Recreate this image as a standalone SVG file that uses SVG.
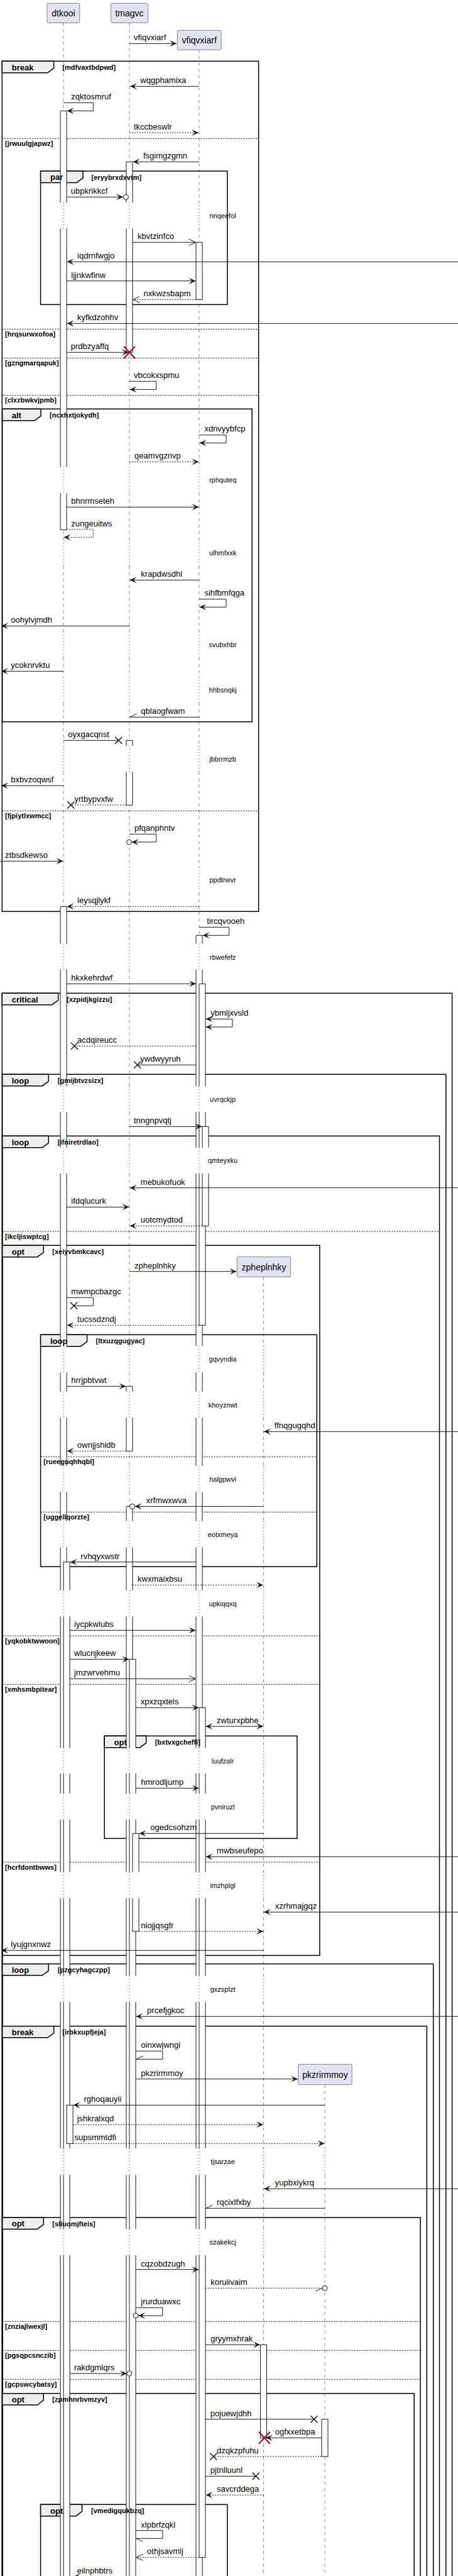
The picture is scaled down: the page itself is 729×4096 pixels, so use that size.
<svg xmlns="http://www.w3.org/2000/svg" width="729" height="4096" viewBox="0 0 729 4096">
<defs>
<style>
text{font-family:"Liberation Sans",Arial,Helvetica,sans-serif;fill:#000}
.pbox{fill:#E2E2F0;stroke:#181818;stroke-width:0.5}
.pt{font-size:14px;text-anchor:middle}
.ll{stroke:#181818;stroke-width:0.5;stroke-dasharray:5,5;fill:none}
.dl{stroke:#A80036;stroke-width:1;stroke-dasharray:1,4;fill:none}
.af{fill:#fff;stroke:none}
.as{fill:none;stroke:#181818;stroke-width:1}
.ab{fill:#fff;stroke:#181818;stroke-width:1}
.m{stroke:#181818;stroke-width:1;fill:none}
.md{stroke:#181818;stroke-width:1;fill:none;stroke-dasharray:2,2}
.t{font-size:13px}
.dt{font-size:11px;text-anchor:middle}
.fr{fill:none;stroke:#000;stroke-width:1.5}
.tab{fill:#EEEEEE;stroke:#000;stroke-width:1.5}
.fk{font-size:13px;font-weight:bold}
.fc{font-size:11px;font-weight:bold}
.sep{stroke:#000;stroke-width:1;stroke-dasharray:2,2;fill:none}
.x{stroke:#181818;stroke-width:1.5;fill:none}
.rx{stroke:#A80036;stroke-width:2;fill:none}
.ci{fill:#fff;stroke:#181818;stroke-width:1}
</style>
<marker id="a" viewBox="-12 -6 13 12" refX="0" refY="0" markerWidth="13" markerHeight="12" markerUnits="userSpaceOnUse" orient="auto-start-reverse"><path d="M0,0 L-11,-5 L-6,0 L-11,5 Z" fill="#181818"/></marker>
<marker id="o" viewBox="-12 -6 13 12" refX="0" refY="0" markerWidth="13" markerHeight="12" markerUnits="userSpaceOnUse" orient="auto"><path d="M-11,-5 L0,0 L-11,5" fill="none" stroke="#181818" stroke-width="1"/></marker>
<marker id="h1" viewBox="-12 -6 13 12" refX="0" refY="0" markerWidth="13" markerHeight="12" markerUnits="userSpaceOnUse" orient="auto"><path d="M-11,5 L0,0" fill="none" stroke="#181818" stroke-width="1"/></marker>
<marker id="h2" viewBox="-12 -6 13 12" refX="0" refY="0" markerWidth="13" markerHeight="12" markerUnits="userSpaceOnUse" orient="auto"><path d="M-11,-5 L0,0" fill="none" stroke="#181818" stroke-width="1"/></marker>
<path id="k0" d="M0 363.3V742.3M0 784V858.6M0 900V1004.3M0 1045.7V1076.3M0 1117.7V1186M0 1227.3V1378.6M0 1420V1500.7M0 1541.7V1727.3M0 1768.3V1824.7M0 1866V2140M0 2182.3V2212.7M0 2254.3V2330.7M0 2372.3V2418.7M0 2460.3V2528.7M0 2570.3V2779.3M0 2820V2851.7M0 2893.3V2976.7M0 3018.3V3141.7M0 3183.3V3416M0 3458.3V3544.3M0 3586V4096"/>
<path id="kB" d="M0 1541.7V1727.3M0 1768.3V1824.7M0 1866V2140M0 2182.3V2212.7M0 2254.3V2330.7M0 2372.3V2418.7M0 2460.3V2528.7M0 2570.3V2779.3M0 2820V2851.7M0 2893.3V2976.7M0 3018.3V3141.7M0 3183.3V3416M0 3458.3V3544.3M0 3586V4096"/>
<path id="kC" d="M0 2460.3V2528.7M0 2570.3V2779.3M0 2820V2851.7M0 2893.3V2976.7M0 3018.3V3141.7M0 3183.3V3416M0 3458.3V3544.3M0 3586V4096"/>
<path id="kD" d="M0 2570.3V2779.3M0 2820V2851.7M0 2893.3V2976.7M0 3018.3V3141.7M0 3183.3V3416M0 3458.3V3544.3M0 3586V4096"/>
<path id="kE" d="M0 2820V2851.7M0 2893.3V2976.7M0 3018.3V3141.7M0 3183.3V3416M0 3458.3V3544.3M0 3586V4096"/>
<path id="q1" d="M0 322V363.3M0 742.3V784M0 858.6V900M0 1004.3V1045.7M0 1076.3V1117.7M0 1186V1227.3M0 1378.6V1420M0 1500.7V1541.7M0 1727.3V1768.3M0 1824.7V1866"/>
<path id="q2" d="M0 2140V2182.3M0 2212.7V2254.3M0 2330.7V2372.3M0 2418.7V2460.3M0 2528.7V2570.3M0 2779.3V2820M0 2851.7V2893.3M0 2976.7V3018.3M0 3141.7V3183.3"/>
<path id="q3" d="M0 3416V3458.3M0 3544.3V3586"/>
</defs>
<rect x="0" y="0" width="729" height="4096" fill="#fff"/>

<g id="frames">
<rect class="fr" x="3.3" y="97.3" width="408.3" height="1352"/>
<polygon class="tab" points="3.3,97.3 85.7,97.3 85.7,108.3 75.7,115.7 3.3,115.7"/>
<path class="sep" d="M3.3 220.3H411.6M3.3 523.3H411.6M3.3 569.3H411.6M3.3 628.7H411.6M3.3 1289.3H411.6"/>
<rect class="fr" x="64.6" y="272" width="297.3" height="212.3"/>
<polygon class="tab" points="64.6,272 132,272 132,283 122,290.4 64.6,290.4"/>
<rect class="fr" x="3.7" y="650.3" width="397.5" height="497.4"/>
<polygon class="tab" points="3.7,650.3 65.1,650.3 65.1,661.3 55.1,668.7 3.7,668.7"/>
<rect class="fr" x="3.3" y="1579.3" width="716.3" height="2530"/>
<polygon class="tab" points="3.3,1579.3 92.7,1579.3 92.7,1590.3 82.7,1597.7 3.3,1597.7"/>
<rect class="fr" x="3.7" y="1708.3" width="706.1" height="2400"/>
<polygon class="tab" points="3.7,1708.3 77.3,1708.3 77.3,1719.3 67.3,1726.7 3.7,1726.7"/>
<rect class="fr" x="3.7" y="1806.3" width="695.8" height="2300"/>
<polygon class="tab" points="3.7,1806.3 77.3,1806.3 77.3,1817.3 67.3,1824.7 3.7,1824.7"/>
<path class="sep" d="M3.7 1958H699.5"/>
<rect class="fr" x="3.7" y="1980.3" width="505.2" height="1129"/>
<polygon class="tab" points="3.7,1980.3 69.3,1980.3 69.3,1991.3 59.3,1998.7 3.7,1998.7"/>
<path class="sep" d="M3.7 2601H508.9M3.7 2678.3H508.9M3.7 2961H508.9"/>
<rect class="fr" x="64.6" y="2122.3" width="439.7" height="368.7"/>
<polygon class="tab" points="64.6,2122.3 138.6,2122.3 138.6,2133.3 128.6,2140.7 64.6,2140.7"/>
<path class="sep" d="M64.6 2316.3H504.3M64.6 2404.3H504.3"/>
<rect class="fr" x="166.2" y="2760.3" width="306.7" height="163"/>
<polygon class="tab" points="166.2,2760.3 232.7,2760.3 232.7,2771.3 222.7,2778.7 166.2,2778.7"/>
<rect class="fr" x="3.7" y="3122.7" width="686" height="990"/>
<polygon class="tab" points="3.7,3122.7 77.3,3122.7 77.3,3133.7 67.3,3141.1 3.7,3141.1"/>
<rect class="fr" x="3.7" y="3221.7" width="675.7" height="890"/>
<polygon class="tab" points="3.7,3221.7 85.7,3221.7 85.7,3232.7 75.7,3240.1 3.7,3240.1"/>
<rect class="fr" x="3.7" y="3526" width="665.4" height="590"/>
<polygon class="tab" points="3.7,3526 69.3,3526 69.3,3537 59.3,3544.4 3.7,3544.4"/>
<path class="sep" d="M3.7 3691.3H669.1M3.7 3737.3H669.1M3.7 3783.3H669.1"/>
<rect class="fr" x="3.7" y="3805.7" width="655.5" height="310"/>
<polygon class="tab" points="3.7,3805.7 69.3,3805.7 69.3,3816.7 59.3,3824.1 3.7,3824.1"/>
<rect class="fr" x="64.6" y="3982.3" width="297.3" height="130"/>
<polygon class="tab" points="64.6,3982.3 130.6,3982.3 130.6,3993.3 120.6,4000.7 64.6,4000.7"/>
</g>

<g id="lifelines">
<g class="ll">
<path d="M101.1 36.3V322M206 36.3V322M317 79.3V322"/>
<use href="#k0" x="101.1"/><use href="#k0" x="206"/><use href="#k0" x="317"/>
<path d="M419.5 2030.3V2140M419.5 2182.3V2212.7M419.5 2254.3V2330.7M419.5 2372.3V2418.7"/>
<use href="#kC" x="419.5"/>
<path d="M517 3314.7V3416M517 3458.3V3544.3M517 3586V4096"/>
</g>
</g>

<g id="activations">
<rect class="af" x="96.1" y="176.3" width="10" height="666"/>
<path class="as" d="M96.1 322V176.3H106.1V322M96.1 363.3V742.3M106.1 363.3V742.3M96.1 784V842.3H106.1V784"/>
<rect class="af" x="96.1" y="1441.3" width="10" height="2665"/>
<path class="as" d="M96.1 1500.7V1441.3H106.1V1500.7"/>
<g class="as"><use href="#kB" x="96.1"/><use href="#kB" x="106.1"/></g>
<rect class="af" x="201" y="257.3" width="10" height="303"/>
<path class="as" d="M201 322V257.3H211V322M201 363.3V560.3H211V363.3"/>
<rect class="af" x="201" y="1177.3" width="10" height="103"/>
<path class="as" d="M201 1186V1177.3H211V1186M201 1227.3V1280.3H211V1227.3"/>
<rect class="af" x="201" y="2204.3" width="10" height="103"/>
<path class="as" d="M201 2212.7V2204.3H211V2212.7M201 2254.3V2307.3H211V2254.3"/>
<rect class="af" x="201" y="2395.3" width="10" height="1710"/>
<path class="as" d="M201 2418.7V2395.3H211V2418.7"/>
<g class="as"><use href="#kC" x="201"/><use href="#kC" x="211"/></g>
<rect class="ab" x="312" y="385.3" width="10" height="91"/>
<rect class="af" x="312" y="1487.3" width="10" height="2620"/>
<path class="as" d="M312 1500.7V1487.3H322V1500.7"/>
<g class="as"><use href="#kB" x="312"/><use href="#kB" x="322"/></g>
<rect class="ab" x="414.5" y="3728.3" width="10" height="148"/>
<rect class="ab" x="512" y="3846.7" width="10" height="59.3"/>
<!-- level 2 -->
<rect class="af" x="101.1" y="2483.7" width="10" height="1620"/>
<path class="as" d="M101.1 2528.7V2483.7H111.1V2528.7"/>
<g class="as"><use href="#kD" x="101.1"/><use href="#kD" x="111.1"/></g>
<rect class="af" x="206" y="2638.3" width="10" height="1470"/>
<path class="as" d="M206 2779.3V2638.3H216V2779.3"/>
<g class="as"><use href="#kE" x="206"/><use href="#kE" x="216"/></g>
<rect class="af" x="317" y="1564.3" width="10" height="543"/>
<path class="as" d="M317 1727.3V1564.3H327V1727.3M317 1768.3V1824.7M327 1768.3V1824.7M317 1866V2107.3H327V1866"/>
<rect class="af" x="317" y="2715.3" width="10" height="1351"/>
<path class="as" d="M317 2779.3V2715.3H327V2779.3M317 2820V2851.7M327 2820V2851.7M317 2893.3V2976.7M327 2893.3V2976.7M317 3018.3V3141.7M327 3018.3V3141.7M317 3183.3V3416M327 3183.3V3416M317 3458.3V3544.3M327 3458.3V3544.3M317 3586V4066.3H327V3586"/>
<!-- level 3 -->
<rect class="ab" x="106.1" y="3347.3" width="10" height="61"/>
<rect class="af" x="211" y="2915.3" width="10" height="155.7"/>
<path class="as" d="M211 2976.7V2915.3H221V2976.7M211 3018.3V3071H221V3018.3"/>
<rect class="af" x="322" y="1791.3" width="10" height="158"/>
<path class="as" d="M322 1824.7V1791.3H332V1824.7M322 1866V1949.3H332V1866"/>
</g>

<g id="delays">
<g class="dl">
<use href="#q1" x="101.1"/><use href="#q1" x="206"/><use href="#q1" x="317"/>
<use href="#q2" x="101.1"/><use href="#q2" x="206"/><use href="#q2" x="317"/><use href="#q2" x="419.5"/>
<use href="#q3" x="101.1"/><use href="#q3" x="206"/><use href="#q3" x="317"/><use href="#q3" x="419.5"/><use href="#q3" x="517"/>
</g>
<text class="dt" x="354.6" y="347">nnqeefol</text>
<text class="dt" x="354.6" y="767">rphquteq</text>
<text class="dt" x="354.6" y="883.3">ulhmfxxk</text>
<text class="dt" x="354.6" y="1029">svubxhbr</text>
<text class="dt" x="354.6" y="1101">hhbsnqkj</text>
<text class="dt" x="354.6" y="1211">jbbrrmzb</text>
<text class="dt" x="354.6" y="1403.3">ppdtrwvr</text>
<text class="dt" x="354.6" y="1526.3">rbwefefz</text>
<text class="dt" x="354.6" y="1751.8">uvrqckjp</text>
<text class="dt" x="354.6" y="1849.4">qmteyxku</text>
<text class="dt" x="354.6" y="2165.2">gqvyndia</text>
<text class="dt" x="354.6" y="2237.5">khoyznwt</text>
<text class="dt" x="354.6" y="2355.5">halgpwvi</text>
<text class="dt" x="354.6" y="2443.5">eotxmeya</text>
<text class="dt" x="354.6" y="2553.5">upkiqqxq</text>
<text class="dt" x="354.6" y="2803.7">luufzalr</text>
<text class="dt" x="354.6" y="2876.5">pvniruzl</text>
<text class="dt" x="354.6" y="3001.5">imzhplgl</text>
<text class="dt" x="354.6" y="3166.5">gxzsplzt</text>
<text class="dt" x="354.6" y="3441.2">tjsarzae</text>
<text class="dt" x="354.6" y="3569.2">szakekcj</text>
</g>

<g id="node-dtkooi"><rect class="pbox" x="74.9" y="5.3" width="52" height="31" rx="2.5"/><text class="pt" x="100.9" y="26.3">dtkooi</text></g>
<g id="node-tmagvc"><rect class="pbox" x="176.5" y="5.3" width="59" height="31" rx="2.5"/><text class="pt" x="206" y="26.3">tmagvc</text></g>
<g id="node-vfiqvxiarf"><rect class="pbox" x="282.3" y="48.3" width="69.8" height="31" rx="2.5"/><text class="pt" x="317.2" y="69.3">vfiqvxiarf</text></g>
<g id="node-zpheplnhky"><rect class="pbox" x="377.4" y="1998.3" width="85.2" height="32" rx="2.5"/><text class="pt" x="420" y="2019.8">zpheplnhky</text></g>
<g id="node-pkzrirmmoy"><rect class="pbox" x="474.8" y="3282.3" width="85.4" height="32.4" rx="2.5"/><text class="pt" x="517.5" y="3304">pkzrirmmoy</text></g>

<g id="connectors">
<line class="m" x1="206" y1="69.3" x2="281" y2="69.3" marker-end="url(#a)"/>
<line class="m" x1="317" y1="137.3" x2="207" y2="137.3" marker-end="url(#a)"/>
<polyline class="m" points="101.1,163.3 148.4,163.3 148.4,176.3 106.6,176.3" marker-end="url(#a)"/>
<line class="md" x1="206" y1="211" x2="316" y2="211" marker-end="url(#a)"/>
<line class="m" x1="317" y1="257.3" x2="211.5" y2="257.3" marker-end="url(#a)"/>
<line class="m" x1="106.1" y1="313.3" x2="196" y2="313.3" marker-end="url(#a)"/>
<circle class="ci" cx="200.5" cy="313.3" r="4"/>
<line class="m" x1="211" y1="385.3" x2="311.5" y2="385.3" marker-end="url(#o)"/>
<line class="m" x1="729" y1="416.3" x2="106.6" y2="416.3" marker-end="url(#a)"/>
<line class="m" x1="106.1" y1="446.7" x2="311.5" y2="446.7" marker-end="url(#a)"/>
<line class="md" x1="312" y1="476.3" x2="211.5" y2="476.3" marker-end="url(#o)"/>
<line class="m" x1="729" y1="514.3" x2="106.6" y2="514.3" marker-end="url(#a)"/>
<line class="m" x1="106.1" y1="560.3" x2="205" y2="560.3" marker-end="url(#a)"/>
<path class="rx" d="M197 550.8L215 569.8M215 550.8L197 569.8"/>
<polyline class="m" points="206,606.3 248.6,606.3 248.6,619.3 206.5,619.3" marker-end="url(#a)"/>
<polyline class="m" points="317,691.7 360,691.7 360,704.3 317.5,704.3" marker-end="url(#a)"/>
<line class="md" x1="206" y1="734.3" x2="316.5" y2="734.3" marker-end="url(#a)"/>
<line class="m" x1="106.1" y1="806.3" x2="316.5" y2="806.3" marker-end="url(#a)"/>
<polyline class="md" points="106.1,841.7 148.4,841.7 148.4,854.3 101.6,854.3" marker-end="url(#a)"/>
<line class="m" x1="317" y1="922.3" x2="206.5" y2="922.3" marker-end="url(#a)"/>
<polyline class="m" points="317,952.7 360,952.7 360,965.3 317.5,965.3" marker-end="url(#a)"/>
<line class="m" x1="206" y1="995.3" x2="2" y2="995.3" marker-end="url(#a)"/>
<line class="m" x1="101.1" y1="1067.3" x2="2" y2="1067.3" marker-end="url(#a)"/>
<line class="m" x1="317" y1="1140.3" x2="206.5" y2="1140.3" marker-end="url(#h1)"/>
<line class="m" x1="101.1" y1="1177.3" x2="188.7" y2="1177.3"/>
<path class="x" d="M183.2 1171.8L194.2 1182.8M194.2 1171.8L183.2 1182.8"/>
<line class="m" x1="101.1" y1="1249.3" x2="2" y2="1249.3" marker-end="url(#a)"/>
<line class="md" x1="201" y1="1280" x2="112.8" y2="1280"/>
<path class="x" d="M107.3 1274.5L118.3 1285.5M118.3 1274.5L107.3 1285.5"/>
<polyline class="m" points="206,1326.3 248.6,1326.3 248.6,1339 209.5,1339" marker-end="url(#a)"/>
<circle class="ci" cx="205.5" cy="1339" r="4"/>
<line class="m" x1="0" y1="1369.3" x2="100.6" y2="1369.3" marker-end="url(#a)"/>
<line class="md" x1="317" y1="1441.3" x2="106.6" y2="1441.3" marker-end="url(#a)"/>
<polyline class="m" points="317,1474.3 364.7,1474.3 364.7,1487.3 322.5,1487.3" marker-end="url(#a)"/>
<line class="m" x1="106.1" y1="1564.3" x2="312" y2="1564.3" marker-end="url(#a)"/>
<polyline class="m" points="327.5,1620.3 369.9,1620.3 369.9,1633 327.5,1633" marker-start="url(#a)" marker-end="url(#a)"/>
<line class="md" x1="312" y1="1663.3" x2="118.5" y2="1663.3"/>
<path class="x" d="M113 1657.8L124 1668.8M124 1657.8L113 1668.8"/>
<line class="m" x1="312" y1="1693.3" x2="218.7" y2="1693.3"/>
<path class="x" d="M213.2 1687.8L224.2 1698.8M224.2 1687.8L213.2 1698.8"/>
<line class="m" x1="206" y1="1791.3" x2="321.5" y2="1791.3" marker-end="url(#a)"/>
<line class="m" x1="729" y1="1888.7" x2="206.5" y2="1888.7" marker-end="url(#a)"/>
<line class="m" x1="106.1" y1="1919.3" x2="205.5" y2="1919.3" marker-end="url(#a)"/>
<line class="md" x1="322" y1="1949.3" x2="206.5" y2="1949.3" marker-end="url(#a)"/>
<line class="m" x1="206" y1="2021.7" x2="376.4" y2="2021.7" marker-end="url(#a)"/>
<polyline class="m" points="106.1,2063.3 148.4,2063.3 148.4,2076.3 117.5,2076.3"/>
<path class="x" d="M112 2070.8L123 2081.8M123 2070.8L112 2081.8"/>
<line class="md" x1="317" y1="2107.3" x2="106.6" y2="2107.3" marker-end="url(#a)"/>
<line class="m" x1="106.1" y1="2204.3" x2="200.5" y2="2204.3" marker-end="url(#a)"/>
<line class="m" x1="729" y1="2276.3" x2="420" y2="2276.3" marker-end="url(#a)"/>
<line class="md" x1="201" y1="2307.3" x2="106.6" y2="2307.3" marker-end="url(#a)"/>
<line class="m" x1="419.5" y1="2395.3" x2="214.5" y2="2395.3" marker-end="url(#a)"/>
<circle class="ci" cx="210.5" cy="2395.3" r="4"/>
<line class="m" x1="312" y1="2483.7" x2="111.6" y2="2483.7" marker-end="url(#a)"/>
<line class="md" x1="211" y1="2520.3" x2="419" y2="2520.3" marker-end="url(#a)"/>
<line class="m" x1="111.1" y1="2592.3" x2="311.5" y2="2592.3" marker-end="url(#a)"/>
<line class="m" x1="111.1" y1="2638.3" x2="205.5" y2="2638.3" marker-end="url(#a)"/>
<line class="m" x1="111.1" y1="2669.3" x2="311.5" y2="2669.3" marker-end="url(#o)"/>
<line class="m" x1="216" y1="2715.3" x2="316.5" y2="2715.3" marker-end="url(#a)"/>
<line class="m" x1="327.5" y1="2745" x2="419" y2="2745" marker-start="url(#a)" marker-end="url(#a)"/>
<line class="m" x1="216" y1="2843.3" x2="316.5" y2="2843.3" marker-end="url(#a)"/>
<line class="m" x1="419.5" y1="2915.3" x2="221.5" y2="2915.3" marker-end="url(#a)"/>
<line class="m" x1="729" y1="2952.3" x2="327.5" y2="2952.3" marker-end="url(#a)"/>
<line class="m" x1="729" y1="3040.3" x2="420" y2="3040.3" marker-end="url(#a)"/>
<line class="md" x1="221" y1="3071" x2="419" y2="3071" marker-end="url(#a)"/>
<line class="m" x1="419.5" y1="3101.3" x2="2" y2="3101.3" marker-end="url(#a)"/>
<line class="m" x1="729" y1="3206.3" x2="216.5" y2="3206.3" marker-end="url(#a)"/>
<polyline class="m" points="216,3261.3 258.9,3261.3 258.9,3274.3 216.5,3274.3" marker-end="url(#h1)"/>
<line class="m" x1="216" y1="3305.7" x2="474" y2="3305.7" marker-end="url(#a)"/>
<line class="m" x1="517" y1="3347.3" x2="116.6" y2="3347.3" marker-end="url(#a)"/>
<line class="md" x1="116.1" y1="3378.3" x2="419" y2="3378.3" marker-end="url(#a)"/>
<line class="md" x1="116.1" y1="3408.3" x2="516.5" y2="3408.3" marker-end="url(#a)"/>
<line class="m" x1="729" y1="3480.3" x2="420" y2="3480.3" marker-end="url(#a)"/>
<line class="m" x1="517" y1="3511.3" x2="327.5" y2="3511.3" marker-end="url(#h1)"/>
<line class="m" x1="216" y1="3608.7" x2="316.5" y2="3608.7" marker-end="url(#a)"/>
<line class="md" x1="327" y1="3638.3" x2="513" y2="3638.3" marker-end="url(#h1)"/>
<circle class="ci" cx="517" cy="3638.3" r="4"/>
<polyline class="m" points="216,3669.3 258.9,3669.3 258.9,3682 220,3682" marker-end="url(#a)"/>
<circle class="ci" cx="216" cy="3682" r="4"/>
<line class="m" x1="327" y1="3728.3" x2="414" y2="3728.3" marker-end="url(#a)"/>
<line class="m" x1="111.1" y1="3774" x2="201.8" y2="3774" marker-end="url(#a)"/>
<circle class="ci" cx="205.8" cy="3774" r="4"/>
<line class="m" x1="327" y1="3846.7" x2="500" y2="3846.7"/>
<path class="x" d="M494.5 3841.2L505.5 3852.2M505.5 3841.2L494.5 3852.2"/>
<line class="m" x1="512" y1="3876.3" x2="423" y2="3876.3" marker-end="url(#a)"/>
<path class="rx" d="M411.9 3866.8L429.9 3885.8M429.9 3866.8L411.9 3885.8"/>
<line class="md" x1="512" y1="3906" x2="339.9" y2="3906"/>
<path class="x" d="M334.4 3900.5L345.4 3911.5M345.4 3900.5L334.4 3911.5"/>
<line class="m" x1="327" y1="3937.3" x2="407.3" y2="3937.3"/>
<path class="x" d="M401.8 3931.8L412.8 3942.8M412.8 3931.8L401.8 3942.8"/>
<line class="md" x1="419.5" y1="3967.3" x2="327.5" y2="3967.3" marker-end="url(#a)"/>
<polyline class="m" points="216,4023.7 258.9,4023.7 258.9,4036.3 216.5,4036.3" marker-end="url(#h2)"/>
<line class="md" x1="317" y1="4066.3" x2="216.5" y2="4066.3" marker-end="url(#o)"/>
<line class="m" x1="400" y1="4097" x2="116.6" y2="4097" marker-end="url(#a)"/>
</g>

<g id="message-labels" class="t">
<text class="t" x="213" y="64.3">vfiqvxiarf</text>
<text class="t" x="223.3" y="132.3">wqgphamixa</text>
<text class="t" x="113.3" y="157.8">zqktosmruf</text>
<text class="t" x="213" y="206">tkccbeswlr</text>
<text class="t" x="228" y="252.3">fsgimgzgmn</text>
<text class="t" x="112.8" y="308.3">ubpkrikkcf</text>
<text class="t" x="219.1" y="380.3">kbvtzinfco</text>
<text class="t" x="123.1" y="411.3">iqdrnfwgjo</text>
<text class="t" x="113.3" y="441.7">ljjnkwfinw</text>
<text class="t" x="228.5" y="471.3">nxkwzsbapm</text>
<text class="t" x="123.1" y="509.3">kyfkdzohhv</text>
<text class="t" x="112.8" y="555.3">prdbzyaffq</text>
<text class="t" x="213" y="601">vbcokxspmu</text>
<text class="t" x="325.4" y="686">xdnvyybfcp</text>
<text class="t" x="214" y="729.3">qeamvgznvp</text>
<text class="t" x="113.3" y="801.3">bhnrmseteh</text>
<text class="t" x="113.3" y="836.5">zungeuitws</text>
<text class="t" x="224.3" y="917.3">krapdwsdhl</text>
<text class="t" x="325.4" y="947">sihfbmfqga</text>
<text class="t" x="17.3" y="990.3">oohylvjmdh</text>
<text class="t" x="17.3" y="1062.3">ycoknrvktu</text>
<text class="t" x="224.3" y="1135.3">qblaogfwam</text>
<text class="t" x="108.2" y="1172.3">oyxgacqnst</text>
<text class="t" x="17.3" y="1244.3">bxbvzoqwsf</text>
<text class="t" x="118.5" y="1275">yrtbypvxfw</text>
<text class="t" x="214" y="1321">pfqanphntv</text>
<text class="t" x="8" y="1364.3">ztbsdkewso</text>
<text class="t" x="123.1" y="1436.3">leysqjlykf</text>
<text class="t" x="329.2" y="1468.5">tircqvooeh</text>
<text class="t" x="113.3" y="1559.3">hkxkehrdwf</text>
<text class="t" x="335.2" y="1614.8">ybmljxvsld</text>
<text class="t" x="123.1" y="1658.3">acdqireucc</text>
<text class="t" x="223.3" y="1688.3">ywdwyyruh</text>
<text class="t" x="213" y="1786.3">tnngnpvqtj</text>
<text class="t" x="223.8" y="1883.7">mebukofuok</text>
<text class="t" x="113.3" y="1914.3">ifdqlucurk</text>
<text class="t" x="223.8" y="1944.3">uotcmydtod</text>
<text class="t" x="214" y="2016.7">zpheplnhky</text>
<text class="t" x="113.3" y="2058">mwmpcbazgc</text>
<text class="t" x="123.1" y="2102.3">tucssdzndj</text>
<text class="t" x="113.3" y="2199.3">hrrjpbtvwt</text>
<text class="t" x="436.8" y="2271.3">ffnqgugqhd</text>
<text class="t" x="123.1" y="2302.3">ownjjshidb</text>
<text class="t" x="232.7" y="2390.3">xrfmwxwva</text>
<text class="t" x="128.3" y="2478.7">rvhqyxwstr</text>
<text class="t" x="219.1" y="2515.3">kwxmaixbsu</text>
<text class="t" x="118" y="2587.3">iycpkwlubs</text>
<text class="t" x="118" y="2633.3">wlucnjkeew</text>
<text class="t" x="118" y="2664.3">jmzwrvehmu</text>
<text class="t" x="223.8" y="2710.3">xpxzqxtels</text>
<text class="t" x="345.1" y="2740">zwturxpbhe</text>
<text class="t" x="224.3" y="2838.3">hmrodljump</text>
<text class="t" x="239.3" y="2910.3">ogedcsohzm</text>
<text class="t" x="345.1" y="2947.3">mwbseufepo</text>
<text class="t" x="437.8" y="3035.3">xzrhmajgqz</text>
<text class="t" x="224.3" y="3066">niojjqsgfr</text>
<text class="t" x="17.3" y="3096.3">lyujgnxnwz</text>
<text class="t" x="234.1" y="3201.3">prcefjgkoc</text>
<text class="t" x="224.3" y="3256">oinxwjwngi</text>
<text class="t" x="224.3" y="3300.7">pkzrirmmoy</text>
<text class="t" x="133.4" y="3342.3">rghoqauyii</text>
<text class="t" x="122.7" y="3373.3">jshkralxqd</text>
<text class="t" x="118.5" y="3403.3">supsmmtdfi</text>
<text class="t" x="437.8" y="3475.3">yupbxiykrq</text>
<text class="t" x="345.1" y="3506.3">rqcixlfxby</text>
<text class="t" x="224.3" y="3603.7">cqzobdzugh</text>
<text class="t" x="335.2" y="3633.3">koruiivaim</text>
<text class="t" x="224.3" y="3664">jrurduawxc</text>
<text class="t" x="335.2" y="3723.3">gryymxhrak</text>
<text class="t" x="118" y="3769">rakdgmlqrs</text>
<text class="t" x="334.8" y="3841.7">pojuewjdhh</text>
<text class="t" x="437.8" y="3871.3">ogfxxetbpa</text>
<text class="t" x="345.1" y="3901">dzqkzpfuhu</text>
<text class="t" x="334.8" y="3932.3">pjtnlluunl</text>
<text class="t" x="345.1" y="3962.3">savcrddega</text>
<text class="t" x="224.3" y="4018.5">xlpbrfzqkl</text>
<text class="t" x="234.1" y="4061.3">othjsavmlj</text>
<text class="t" x="122.7" y="4091.7">eilnphbtrs</text>
</g>

<g id="frame-labels">
<text class="fk" x="18.7" y="111.6">break</text><text class="fc" x="99.3" y="111">[mdfvaxtbdpwd]</text>
<text class="fc" x="8" y="231.8">[jrwuulgjapwz]</text>
<text class="fc" x="8" y="534.8">[hrqsurwxofoa]</text>
<text class="fc" x="8" y="580.8">[gzngmarqapuk]</text>
<text class="fc" x="8" y="640.2">[clxzbwkvjpmb]</text>
<text class="fc" x="8" y="1300.8">[fjpiytlxwmcc]</text>
<text class="fk" x="80" y="286.3">par</text><text class="fc" x="145.6" y="285.7">[eryybrxdxvtm]</text>
<text class="fk" x="18.7" y="664.6">alt</text><text class="fc" x="79.1" y="664">[ncxhxtjokydh]</text>
<text class="fk" x="18.7" y="1593.6">critical</text><text class="fc" x="106.3" y="1593">[xzpidjkgizzu]</text>
<text class="fk" x="18.7" y="1722.6">loop</text><text class="fc" x="91.8" y="1722">[gmijbtvzsizx]</text>
<text class="fk" x="18.7" y="1820.6">loop</text><text class="fc" x="91.8" y="1820">[ifniretrdlao]</text>
<text class="fc" x="8" y="1969.5">[ikcljiswptcg]</text>
<text class="fk" x="18.7" y="1994.6">opt</text><text class="fc" x="83.3" y="1994">[xeiyvbmkcavc]</text>
<text class="fc" x="8" y="2612.5">[yqkobktwwoon]</text>
<text class="fc" x="8" y="2689.8">[xmhsmbpitear]</text>
<text class="fc" x="8" y="2972.5">[hcrfdontbwws]</text>
<text class="fk" x="80" y="2136.6">loop</text><text class="fc" x="152.6" y="2136">[ltxuzqgugyac]</text>
<text class="fc" x="69.3" y="2327.8">[rueeguqhhqbl]</text>
<text class="fc" x="69.3" y="2415.8">[uggellqorzte]</text>
<text class="fk" x="181.6" y="2774.6">opt</text><text class="fc" x="246.7" y="2774">[bxtvxgcheffi]</text>
<text class="fk" x="18.7" y="3137">loop</text><text class="fc" x="91.8" y="3136.4">[pzgcyhagczpp]</text>
<text class="fk" x="18.7" y="3236">break</text><text class="fc" x="99.3" y="3235.4">[irbkxupfjeja]</text>
<text class="fk" x="18.7" y="3540.3">opt</text><text class="fc" x="83.3" y="3539.7">[sliuomjfteis]</text>
<text class="fc" x="8" y="3702.8">[znziajlwexjl]</text>
<text class="fc" x="8" y="3748.8">[pgsqpcsnczib]</text>
<text class="fc" x="8" y="3794.8">[gcpswcybatsy]</text>
<text class="fk" x="18.7" y="3820">opt</text><text class="fc" x="83.3" y="3819.4">[zpmhnrbvmzyv]</text>
<text class="fk" x="80" y="3996.6">opt</text><text class="fc" x="145.1" y="3996">[vmedigqukbzq]</text>
</g>
</svg>
